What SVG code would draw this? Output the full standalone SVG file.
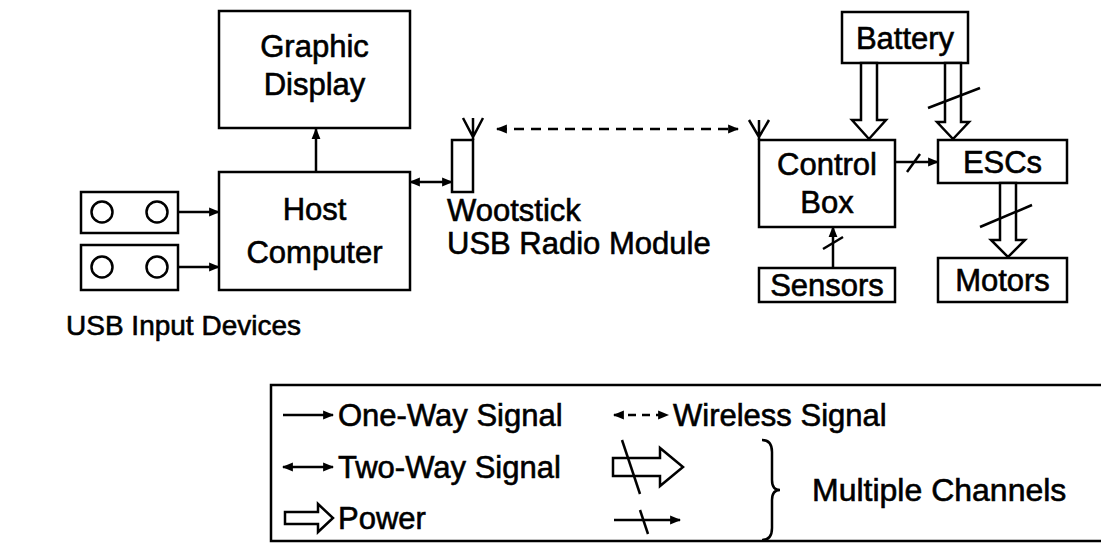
<svg xmlns="http://www.w3.org/2000/svg" width="1101" height="546" viewBox="0 0 1101 546">
<defs>
<style>
.box{fill:#fff;stroke:#000;stroke-width:2.5}
.ln{fill:none;stroke:#000;stroke-width:2.5}
.pw{fill:#fff;stroke:#000;stroke-width:2.5;stroke-linejoin:miter}
.t{font-family:"Liberation Sans",Arial,sans-serif;font-size:31px;fill:#000;stroke:#000;stroke-width:0.6}
.c{text-anchor:middle}
.lg{font-family:"Liberation Sans",Arial,sans-serif;font-size:31px;fill:#000;stroke:#000;stroke-width:0.6}
</style>
<marker id="ah" viewBox="0 0 10 10" refX="9" refY="5" markerWidth="11" markerHeight="11" markerUnits="userSpaceOnUse" orient="auto-start-reverse">
<path d="M0,1 L10,5 L0,9 Z" fill="#000"/>
</marker>
</defs>
<rect width="1101" height="546" fill="#fff"/>

<g id="graphic-display">
<rect class="box" x="219" y="11" width="191" height="117"/>
<text class="t c" x="314.5" y="57">Graphic</text>
<text class="t c" x="314.5" y="95">Display</text>
</g>
<g id="host-computer">
<rect class="box" x="219" y="172" width="191" height="118"/>
<text class="t c" x="314.5" y="220">Host</text>
<text class="t c" x="314.5" y="263">Computer</text>
</g>
<g id="usb-input-1">
<rect class="box" x="81" y="192" width="97" height="41"/>
<circle class="ln" cx="102" cy="212" r="10.5"/>
<circle class="ln" cx="157" cy="212" r="10.5"/>
</g>
<g id="usb-input-2">
<rect class="box" x="81" y="245" width="97" height="45"/>
<circle class="ln" cx="102" cy="267" r="10.5"/>
<circle class="ln" cx="157" cy="267" r="10.5"/>
</g>
<g id="usb-input-label">
<text class="t" x="66" y="335" style="font-size:28px">USB Input Devices</text>
</g>
<g id="wootstick">
<rect class="box" x="452" y="140" width="21" height="52"/>
<path class="ln" d="M463,118 L473,137 L483,118 M473,118 L473,140"/>
<text class="t" x="447" y="221">Wootstick</text>
<text class="t" x="447" y="254">USB Radio Module</text>
</g>
<g id="control-box">
<rect class="box" x="759" y="140" width="136" height="87"/>
<path class="ln" d="M749,120 L759,137 L769,120 M759,120 L759,140"/>
<text class="t c" x="827" y="175">Control</text>
<text class="t c" x="827" y="213">Box</text>
</g>
<g id="battery">
<rect class="box" x="842" y="12" width="126" height="51"/>
<text class="t c" x="905" y="49">Battery</text>
</g>
<g id="escs">
<rect class="box" x="938" y="140" width="129" height="43"/>
<text class="t c" x="1002.5" y="173">ESCs</text>
</g>
<g id="sensors">
<rect class="box" x="759" y="268" width="136" height="34"/>
<text class="t c" x="827" y="296">Sensors</text>
</g>
<g id="motors">
<rect class="box" x="938" y="258" width="129" height="44"/>
<text class="t c" x="1002.5" y="291">Motors</text>
</g>

<g id="connectors">
<line class="ln" x1="316" y1="172" x2="316" y2="129" marker-end="url(#ah)"/>
<line class="ln" x1="178" y1="212" x2="219" y2="212" marker-end="url(#ah)"/>
<line class="ln" x1="178" y1="267" x2="219" y2="267" marker-end="url(#ah)"/>
<line class="ln" x1="410" y1="182" x2="452" y2="182" marker-start="url(#ah)" marker-end="url(#ah)"/>
<line class="ln" x1="497" y1="129" x2="738" y2="129" stroke-dasharray="10,7" marker-start="url(#ah)" marker-end="url(#ah)"/>
<line class="ln" x1="895" y1="162" x2="938" y2="162" marker-end="url(#ah)"/>
<line class="ln" x1="907" y1="172" x2="920" y2="154"/>
<line class="ln" x1="833" y1="268" x2="833" y2="227" marker-end="url(#ah)"/>
<line class="ln" x1="823" y1="249" x2="843" y2="237"/>
<polygon class="pw" points="861,63 877,63 877,120 886,120 869,139 852,120 861,120"/>
<polygon class="pw" points="945,63 961,63 961,122 969,122 953,139 937,122 945,122"/>
<line class="ln" x1="928" y1="108" x2="980" y2="88"/>
<polygon class="pw" points="1000,183 1016,183 1016,240 1025,240 1008,257 991,240 1000,240"/>
<line class="ln" x1="980" y1="227" x2="1032" y2="205"/>
</g>

<g id="legend">
<rect class="box" x="271" y="385" width="834" height="156"/>
<line class="ln" x1="283" y1="415" x2="333" y2="415" marker-end="url(#ah)"/>
<text class="lg" x="338" y="426">One-Way Signal</text>
<line class="ln" x1="283" y1="467" x2="333" y2="467" marker-start="url(#ah)" marker-end="url(#ah)"/>
<text class="lg" x="338" y="478">Two-Way Signal</text>
<polygon class="pw" points="285,512 318,512 318,504 333,518 318,532 318,524 285,524"/>
<text class="lg" x="338" y="529">Power</text>
<line class="ln" x1="614" y1="415" x2="668" y2="415" stroke-dasharray="8,6" marker-start="url(#ah)" marker-end="url(#ah)"/>
<text class="lg" x="673" y="426">Wireless Signal</text>
<polygon class="pw" points="613,458 660,458 660,448 683,467 660,486 660,476 613,476"/>
<line class="ln" x1="622" y1="440" x2="640" y2="494"/>
<line class="ln" x1="614" y1="520" x2="680" y2="520" marker-end="url(#ah)"/>
<line class="ln" x1="640" y1="510" x2="648" y2="534"/>
<path class="ln" d="M762,440 Q772,440 772,452 L772,480 Q772,490 780,490 Q772,490 772,500 L772,528 Q772,540 762,540"/>
<text class="lg" x="812" y="501" style="font-size:32px">Multiple Channels</text>
</g>
</svg>
